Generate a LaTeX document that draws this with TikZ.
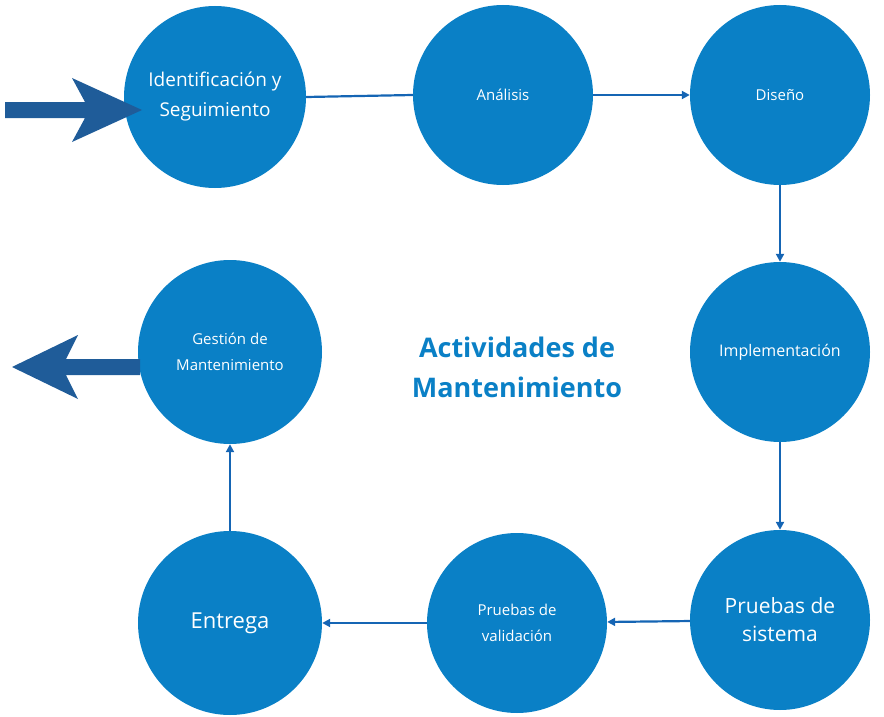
\documentclass[tikz,border=0pt]{standalone}
\usepackage{fontspec}
\setmainfont{Open Sans}
\usetikzlibrary{arrows.meta}
\definecolor{cb}{HTML}{0A80C6}
\definecolor{ln}{HTML}{1565B4}
\definecolor{big}{HTML}{1F5C99}
\begin{document}
\begin{tikzpicture}[x=1pt,y=-1pt,
  circ/.style={circle,fill=cb,minimum size=180pt,inner sep=0pt,text=white,align=center,font=\fontsize{15}{20}\selectfont},
  conn/.style={draw=ln,line width=2.2pt,-{Triangle[length=8pt,width=8pt]}}]
\useasboundingbox (0,0) rectangle (884,717);
\node[circ,minimum size=182pt,font=\fontsize{19}{30}\selectfont] (a) at (215,97) {Identificación y\\Seguimiento};
\node[circ] (b) at (503,95) {Análisis};
\node[circ] (c) at (780,95) {Diseño};
\node[circ,font=\fontsize{16}{20}\selectfont] (d) at (780,352) {Implementación};
\node[circ,font=\fontsize{21}{28}\selectfont] (e) at (780,620) {Pruebas de\\sistema};
\node[circ,font=\fontsize{15}{26}\selectfont] (f) at (517,623) {Pruebas de\\validación};
\node[circ,minimum size=184pt,font=\fontsize{22}{28}\selectfont] (g) at (230,623) {Entrega};
\node[circ,minimum size=184pt,font=\fontsize{15}{26}\selectfont] (h) at (230,352) {Gestión de\\Mantenimiento};
\node[text=cb,font=\bfseries\fontsize{27}{40}\selectfont,align=center] (t) at (517,367) {Actividades de\\ Mantenimiento};
\draw[draw=ln,line width=2.2pt] (a.east) -- (b.west);
\draw[conn] (b) -- (c);
\draw[conn] (c) -- (d);
\draw[conn] (d) -- (e);
\draw[conn] (e) -- (f);
\draw[conn] (f) -- (g);
\draw[conn] (g) -- (h);
\coordinate (inS) at (5,110);
\fill[big] (inS) ++(0,-8) -- (85,102) -- (72,78) -- (142,110) -- (72,142) -- (85,118) -- (5,118) -- cycle;
\coordinate (outT) at (12,367);
\fill[big] (outT) -- (78,335) -- (66,359) -- (140,359) -- (140,375) -- (66,375) -- (78,399) -- cycle;
\end{tikzpicture}
\end{document}
